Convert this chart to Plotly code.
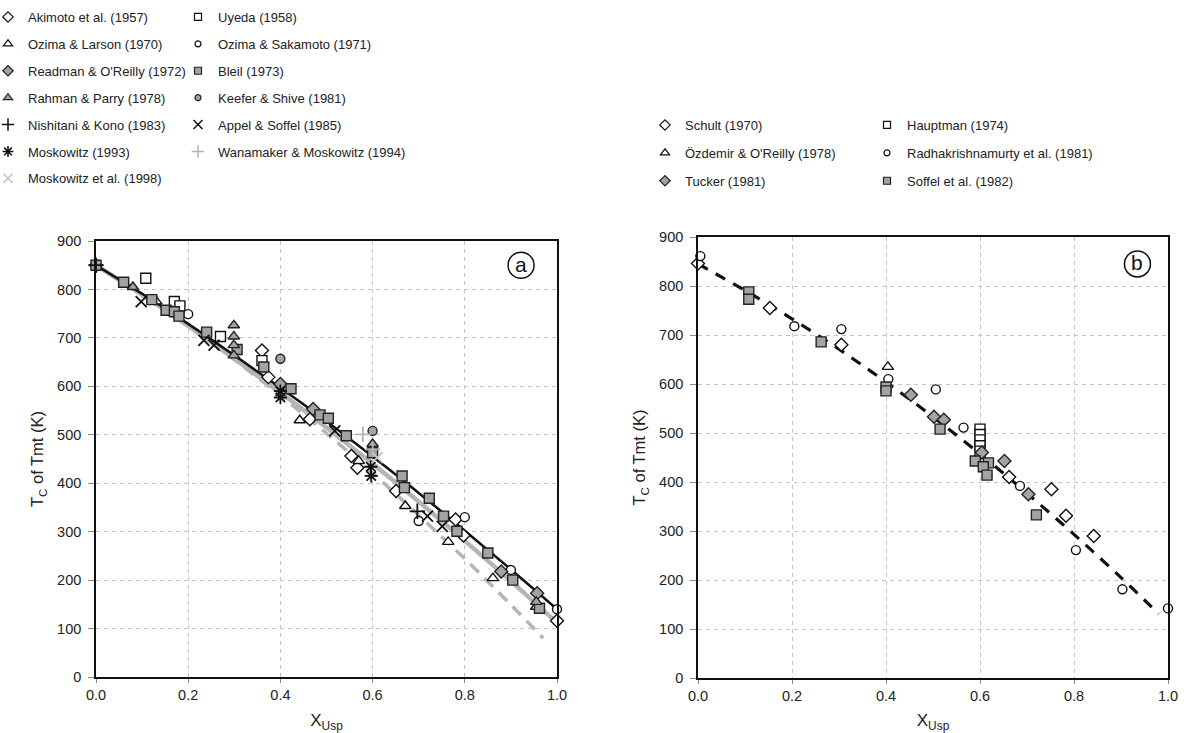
import plotly.graph_objects as go

W, H = 1188, 733

# ---------------- Panel (a) data ----------------
akimoto_x = [0.0, 0.36, 0.374, 0.464, 0.554, 0.567, 0.651, 0.78, 0.797, 1.0]
akimoto_y = [850, 674, 619, 532, 456, 432, 384, 325, 292, 116]
uyeda_x = [0.108, 0.17, 0.182, 0.27, 0.36]
uyeda_y = [823, 775, 766, 703, 653]
ozlar_x = [0.131, 0.442, 0.57, 0.671, 0.764, 0.861, 0.955]
ozlar_y = [775, 530, 446, 353, 279, 204, 145]
ozsak_x = [0.2, 0.70, 0.80, 0.90, 1.0]
ozsak_y = [749, 322, 330, 221, 140]
readman_x = [0.40, 0.471, 0.879, 0.957]
readman_y = [605, 553, 218, 173]
bleil_x = [0.0, 0.06, 0.121, 0.152, 0.17, 0.18, 0.24, 0.306, 0.364, 0.423, 0.486, 0.504,
           0.543, 0.60, 0.664, 0.669, 0.723, 0.754, 0.783, 0.85, 0.904, 0.962]
bleil_y = [850, 815, 779, 757, 754, 745, 712, 676, 640, 595, 541, 534,
           498, 463, 415, 391, 369, 332, 301, 256, 200, 142]
rahman_x = [0.08, 0.299, 0.299, 0.299, 0.299, 0.60, 0.955]
rahman_y = [805, 726, 703, 685, 664, 481, 155]
keefer_x = [0.40, 0.60]
keefer_y = [657, 508]
nishitani_x = [0.0, 0.697]
nishitani_y = [850, 342]
appel_x = [0.098, 0.234, 0.256, 0.518, 0.719, 0.751]
appel_y = [775, 695, 685, 508, 332, 311]
mosk93_x = [0.40, 0.40, 0.596, 0.597]
mosk93_y = [590, 577, 434, 415]
wanamaker_x = [0.579, 0.60]
wanamaker_y = [501, 470]
mosk98_x = [0.61]
mosk98_y = [453]

# fitted curves of panel (a)
curve_x = [0.0, 0.1, 0.2, 0.3, 0.4, 0.5, 0.6, 0.7, 0.8, 0.9, 1.0]
black_fit_y = [850, 791, 729, 664, 597, 528, 455, 380, 302, 222, 140]
gray_fit_y = [850, 789, 725, 657, 587, 515, 440, 362, 281, 198, 112]
dash_x = [0.0, 0.1, 0.2, 0.3, 0.4, 0.5, 0.6, 0.7, 0.8, 0.9, 0.97]
dash_fit_y = [850, 789, 724, 655, 581, 503, 421, 334, 244, 149, 80]

# ---------------- Panel (b) data ----------------
schult_x = [0.0, 0.153, 0.305, 0.662, 0.752, 0.783, 0.842]
schult_y = [846, 755, 680, 410, 385, 331, 290]
hauptman_x = [0.6, 0.6, 0.6, 0.6, 0.6]
hauptman_y = [508, 497, 486, 474, 463]
ozdemir_x = [0.404]
ozdemir_y = [635]
radha_x = [0.005, 0.205, 0.305, 0.405, 0.506, 0.565, 0.685, 0.804, 0.903, 1.0]
radha_y = [861, 718, 712, 610, 589, 511, 392, 261, 181, 142]
tucker_x = [0.453, 0.502, 0.523, 0.604, 0.652, 0.703]
tucker_y = [578, 533, 527, 460, 443, 375]
soffel_x = [0.108, 0.108, 0.262, 0.40, 0.40, 0.515, 0.59, 0.618, 0.607, 0.615, 0.72]
soffel_y = [788, 773, 686, 594, 586, 508, 443, 439, 431, 414, 333]

b_fit_x = [0.0, 0.1, 0.2, 0.3, 0.4, 0.5, 0.6, 0.7, 0.8, 0.9, 0.98]
b_fit_y = [845, 791, 733, 671, 604, 533, 457, 377, 293, 205, 131]

# tick labels
x_ticks = [0.0, 0.2, 0.4, 0.6, 0.8, 1.0]
y_ticks = [0, 100, 200, 300, 400, 500, 600, 700, 800, 900]

# ---------------- styles ----------------
BLACK = "#111111"
GRAY = "#a3a3a3"
LGRAY = "#b5b5b5"

def open_mk(symbol, size, lw=1.4):
    return dict(symbol=symbol, size=size, color="white", line=dict(color=BLACK, width=lw))

def fill_mk(symbol, size, lw=1.4):
    return dict(symbol=symbol, size=size, color=GRAY, line=dict(color="#222222", width=lw))

def line_mk(symbol, size, color, lw=1.8):
    return dict(symbol=symbol, size=size, color=color, line=dict(color=color, width=lw))

fig = go.Figure()

# lines of panel (a)
fig.add_trace(go.Scatter(x=dash_x, y=dash_fit_y, mode="lines", showlegend=False,
                         line=dict(color=LGRAY, width=3.5, dash="12px,8px", shape="spline"),
                         xaxis="x", yaxis="y", hoverinfo="skip"))
fig.add_trace(go.Scatter(x=curve_x, y=gray_fit_y, mode="lines", showlegend=False,
                         line=dict(color=LGRAY, width=4.5, shape="spline"),
                         xaxis="x", yaxis="y", hoverinfo="skip"))
fig.add_trace(go.Scatter(x=curve_x, y=black_fit_y, mode="lines", showlegend=False,
                         line=dict(color=BLACK, width=2.5, shape="spline"),
                         xaxis="x", yaxis="y", hoverinfo="skip"))
# line of panel (b)
fig.add_trace(go.Scatter(x=b_fit_x, y=b_fit_y, mode="lines", showlegend=False,
                         line=dict(color=BLACK, width=3.2, dash="11px,9px", shape="spline"),
                         xaxis="x2", yaxis="y2", hoverinfo="skip"))

# (name, x, y, kind, symbol, plot size, legend size, legend id)
series_a = [
    ("Akimoto et al. (1957)", akimoto_x, akimoto_y, "open", "diamond", 10, 8, "legend"),
    ("Uyeda (1958)", uyeda_x, uyeda_y, "open", "square", 10, 7, "legend2"),
    ("Ozima & Larson (1970)", ozlar_x, ozlar_y, "open", "triangle-up", 10, 8, "legend"),
    ("Ozima & Sakamoto (1971)", ozsak_x, ozsak_y, "open", "circle", 9, 6, "legend2"),
    ("Readman & O'Reilly (1972)", readman_x, readman_y, "fill", "diamond", 10, 8, "legend"),
    ("Bleil (1973)", bleil_x, bleil_y, "fill", "square", 10, 7, "legend2"),
    ("Rahman & Parry (1978)", rahman_x, rahman_y, "fill", "triangle-up", 10, 8, "legend"),
    ("Keefer & Shive (1981)", keefer_x, keefer_y, "fill", "circle", 9, 6, "legend2"),
    ("Nishitani & Kono (1983)", nishitani_x, nishitani_y, ("line", BLACK), "cross-thin-open", 11, 9, "legend"),
    ("Appel & Soffel (1985)", appel_x, appel_y, ("line", BLACK), "x-thin-open", 11, 9, "legend2"),
    ("Moskowitz (1993)", mosk93_x, mosk93_y, ("line", BLACK), "asterisk-open", 11, 9, "legend"),
    ("Wanamaker & Moskowitz (1994)", wanamaker_x, wanamaker_y, ("line", LGRAY), "cross-thin-open", 11, 9, "legend2"),
    ("Moskowitz et al. (1998)", mosk98_x, mosk98_y, ("line", "#c4c4c4"), "x-thin-open", 11, 9, "legend"),
]
series_b = [
    ("Schult (1970)", schult_x, schult_y, "open", "diamond", 10, 8, "legend3"),
    ("Hauptman (1974)", hauptman_x, hauptman_y, "open", "square", 10, 7, "legend4"),
    ("Özdemir & O'Reilly (1978)", ozdemir_x, ozdemir_y, "open", "triangle-up", 10, 8, "legend3"),
    ("Radhakrishnamurty et al. (1981)", radha_x, radha_y, "open", "circle", 9, 6, "legend4"),
    ("Tucker (1981)", tucker_x, tucker_y, "fill", "diamond", 10, 8, "legend3"),
    ("Soffel et al. (1982)", soffel_x, soffel_y, "fill", "square", 10, 7, "legend4"),
]

def marker_for(kind, symbol, size, small=False):
    if kind == "open":
        return open_mk(symbol, size, 1.2 if small else 1.4)
    if kind == "fill":
        return fill_mk(symbol, size, 1.2 if small else 1.4)
    return line_mk(symbol, size, kind[1], 1.5 if small else 1.8)

def add_series(series, prefix, xa, ya):
    for i, (name, xs, ys, kind, symbol, size, lsize, leg) in enumerate(series):
        grp = "%s%d" % (prefix, i)
        # data markers
        fig.add_trace(go.Scatter(x=xs, y=ys, mode="markers", name=name,
                                 marker=marker_for(kind, symbol, size),
                                 legendgroup=grp, showlegend=False, cliponaxis=False,
                                 xaxis=xa, yaxis=ya))
        # legend entry with the small symbol used in the reference legend
        fig.add_trace(go.Scatter(x=[None], y=[None], mode="markers", name=name,
                                 marker=marker_for(kind, symbol, lsize, small=True),
                                 legend=leg, legendgroup=grp, showlegend=True,
                                 xaxis=xa, yaxis=ya, hoverinfo="skip"))

add_series(series_a, "a", "x", "y")
add_series(series_b, "b", "x2", "y2")

FONT = "Liberation Sans, Arial, sans-serif"

def px_x(p):
    return p / W

def px_y(p):
    return 1 - p / H

axis_common = dict(
    showline=True, mirror=True, linecolor=BLACK, linewidth=1.6,
    showgrid=True, gridcolor="#c4c4c4", griddash="4px,4px", gridwidth=1,
    zeroline=False, ticks="outside", tickcolor="#888888",
    tickfont=dict(family=FONT, size=14.5, color="#222222"),
)

xa = dict(axis_common, range=[0, 1], tickvals=x_ticks, tickformat=".1f", ticklen=4,
          title=dict(text="X<sub>Usp</sub>", font=dict(family=FONT, size=17, color="#222222"), standoff=17))
ya = dict(axis_common, range=[0, 900], tickvals=y_ticks, ticklen=6, ticklabelstandoff=4,
          title=dict(text="T<sub>C</sub> of Tmt (K)", font=dict(family=FONT, size=16.5, color="#222222"), standoff=9))

legend_common = dict(
    orientation="v", traceorder="grouped", tracegroupgap=7, itemwidth=30,
    font=dict(family=FONT, size=13, color="#222222"), bgcolor="rgba(0,0,0,0)",
    xanchor="left", yanchor="top", itemclick=False, itemdoubleclick=False,
)

fig.update_layout(
    width=W, height=H,
    margin=dict(l=0, r=0, t=0, b=0, autoexpand=False),
    paper_bgcolor="white", plot_bgcolor="white",
    font=dict(family=FONT, color="#222222"),
    xaxis=dict(xa, domain=[px_x(96), px_x(557)], anchor="y"),
    yaxis=dict(ya, domain=[px_y(677), px_y(241)], anchor="x"),
    xaxis2=dict(xa, domain=[px_x(698), px_x(1168)], anchor="y2"),
    yaxis2=dict(ya, domain=[px_y(678), px_y(237)], anchor="x2"),
    legend=dict(legend_common, x=0.0, y=px_y(2), indentation=-12),
    legend2=dict(legend_common, x=px_x(178), y=px_y(2)),
    legend3=dict(legend_common, tracegroupgap=8, x=px_x(645), y=px_y(110)),
    legend4=dict(legend_common, tracegroupgap=8, x=px_x(867), y=px_y(110)),
    showlegend=True,
)

# circled panel labels
for xr, yr, cx, cy, lab in [("x", "y", 0.922, 850, "a"), ("x2", "y2", 0.935, 845, "b")]:
    fig.add_shape(type="circle", xref=xr, yref=yr, xsizemode="pixel", ysizemode="pixel",
                  xanchor=cx, yanchor=cy, x0=-13, x1=13, y0=-13, y1=13,
                  line=dict(color=BLACK, width=1.5), fillcolor="white")
    fig.add_annotation(x=cx, y=cy, xref=xr, yref=yr, text=lab, showarrow=False,
                       font=dict(family=FONT, size=21, color=BLACK), yshift=1)

fig.write_html("out.html")
